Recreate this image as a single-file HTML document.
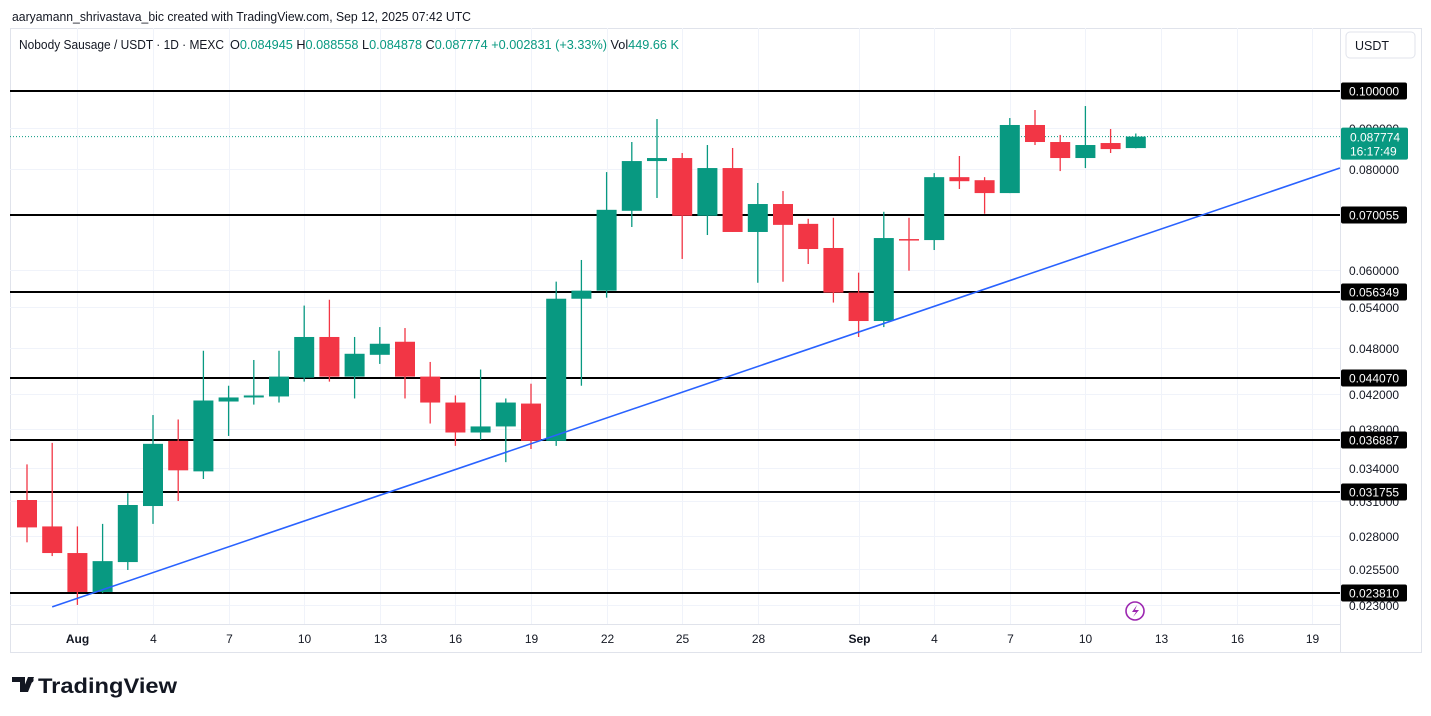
<!DOCTYPE html>
<html><head><meta charset="utf-8"><style>
html,body{margin:0;padding:0;background:#fff;width:1431px;height:716px;overflow:hidden;font-family:"Liberation Sans",sans-serif}
svg text{font-family:"Liberation Sans",sans-serif}
</style></head><body>
<svg id="chart" width="1431" height="716" viewBox="0 0 1431 716" xmlns="http://www.w3.org/2000/svg">
<text x="12" y="21" font-size="12.5" fill="#131722" textLength="459" lengthAdjust="spacingAndGlyphs">aaryamann_shrivastava_bic created with TradingView.com, Sep 12, 2025 07:42 UTC</text>
<rect x="10.5" y="28.5" width="1411" height="624" fill="none" stroke="#e0e3eb"/>
<line x1="1340.5" y1="28" x2="1340.5" y2="652" stroke="#e0e3eb"/>
<line x1="10" y1="624.5" x2="1340" y2="624.5" stroke="#e0e3eb"/>
<g id="grid"></g>
<g id="hlines"></g>
<g id="candles"></g>
<g id="trend"></g>
<g id="yaxis"></g>
<g id="xaxis"></g>
<text x="19" y="49" font-size="12.5" fill="#131722" textLength="205" lengthAdjust="spacingAndGlyphs">Nobody Sausage / USDT · 1D · MEXC</text>
<text x="230" y="49" font-size="12.5" fill="#089981" textLength="449" lengthAdjust="spacingAndGlyphs"><tspan fill="#131722">O</tspan>0.084945 <tspan fill="#131722">H</tspan>0.088558 <tspan fill="#131722">L</tspan>0.084878 <tspan fill="#131722">C</tspan>0.087774 +0.002831 (+3.33%) <tspan fill="#131722">Vol</tspan>449.66 K</text>
<rect x="1346" y="32" width="69" height="26" rx="4" fill="#fff" stroke="#e0e3eb"/>
<text x="1355" y="50" font-size="12.5" fill="#131722">USDT</text>
<g><circle cx="1135" cy="611" r="9" fill="none" stroke="#9c27b0" stroke-width="1.6"/><path d="M1137 605 L1132 612 L1136 612 L1133 617 L1139 610 L1135 610 Z" fill="#9c27b0"/></g>
<g><path d="M12 677 h13 v15 h-5 v-10 h-8z M28 677 h6 l-6 15 h-6z" fill="#131722"/><circle cx="31" cy="680" r="2.6" fill="#131722"/><text x="38" y="693" font-size="21" font-weight="bold" fill="#131722" textLength="139" lengthAdjust="spacingAndGlyphs">TradingView</text></g>
</svg>
<script>
const dates = [];
const opens =  [0.03106,0.02880,0.02669,0.02388,0.02601,0.03053,0.03678,0.03371,0.04116,0.04164,0.04176,0.04407,0.04950,0.04420,0.04704,0.04883,0.04420,0.04104,0.03767,0.03833,0.04092,0.03678,0.05522,0.05651,0.07100,0.08185,0.08256,0.07000,0.08023,0.06683,0.07239,0.06840,0.06384,0.05619,0.05181,0.06549,0.06530,0.07817,0.07749,0.07469,0.09074,0.08643,0.08256,0.08618,0.084945];
const highs =  [0.03439,0.03657,0.02880,0.02901,0.03167,0.03960,0.03910,0.04759,0.04306,0.04635,0.04759,0.05415,0.05506,0.04950,0.05092,0.05078,0.04609,0.04188,0.04510,0.04152,0.04331,0.05799,0.06169,0.07931,0.08643,0.09230,0.08376,0.08569,0.08497,0.07688,0.07513,0.06940,0.06960,0.05949,0.07080,0.06960,0.07908,0.08304,0.07817,0.09256,0.09471,0.08820,0.09579,0.08970,0.088558];
const lows =   [0.02752,0.02646,0.02301,0.02380,0.02543,0.02901,0.03097,0.03298,0.03730,0.04080,0.04104,0.04357,0.04357,0.04152,0.04583,0.04152,0.03865,0.03626,0.03689,0.03461,0.03594,0.03626,0.04306,0.05539,0.06779,0.07365,0.06187,0.06625,0.06683,0.05780,0.05797,0.06098,0.05462,0.04950,0.05092,0.05983,0.06347,0.07557,0.07040,0.07469,0.08569,0.07954,0.08023,0.08376,0.084878];
const closes = [0.02872,0.02669,0.02388,0.02608,0.03062,0.03647,0.03381,0.04128,0.04164,0.04188,0.04420,0.04950,0.04420,0.04718,0.04855,0.04420,0.04104,0.03767,0.03833,0.04104,0.03678,0.05522,0.05651,0.07120,0.08185,0.08256,0.07000,0.08023,0.06683,0.07239,0.06820,0.06365,0.05619,0.05181,0.06568,0.06530,0.07817,0.07727,0.07469,0.09074,0.08643,0.08256,0.08569,0.08470,0.087774];
const levels = [0.1,0.070055,0.056349,0.04407,0.036887,0.031755,0.02381];
const levelLabels = ["0.100000","0.070055","0.056349","0.044070","0.036887","0.031755","0.023810"];
const gridPrices = [0.09,0.08,0.06,0.054,0.048,0.042,0.038,0.034,0.031,0.028,0.0255,0.023];
const gridLabels = ["0.090000","0.080000","0.060000","0.054000","0.048000","0.042000","0.038000","0.034000","0.031000","0.028000","0.025500","0.023000"];
const xTickIdx = [2,5,8,11,14,17,20,23,26,29,33,36,39,42,45,48,51];
const xTickLabels = ["Aug","4","7","10","13","16","19","22","25","28","Sep","4","7","10","13","16","19"];
const trendIdx = [1,52.1];
const trendPrice = [0.02288,0.08023];
const lastPrice = 0.087774;

const NS="http://www.w3.org/2000/svg";
function X(i){return 27+i*25.2;}
function Y(p){return 91+(Math.log(0.1)-Math.log(p))*349.8;}
function mk(tag,attrs,parent){const e=document.createElementNS(NS,tag);for(const k in attrs)e.setAttribute(k,attrs[k]);parent.appendChild(e);return e;}
const grid=document.getElementById('grid'),hl=document.getElementById('hlines'),cg=document.getElementById('candles'),tg=document.getElementById('trend'),ya=document.getElementById('yaxis'),xa=document.getElementById('xaxis');
gridPrices.forEach((p,k)=>{const y=Math.round(Y(p))+0.5;
 const l=mk('line',{x1:10,x2:1340,y1:y,y2:y,stroke:'#f0f3fa'},grid);
 
 
 const t=mk('text',{x:1349,y:y+4.5,'font-size':12,fill:'#131722'},ya);t.textContent=gridLabels[k];
 
 
});
xTickIdx.forEach((i,k)=>{const x=Math.round(X(i))+0.5;
 const l=mk('line',{x1:x,x2:x,y1:28,y2:624,stroke:'#f0f3fa'},grid);
 
 
 const t=mk('text',{x:x,y:643,'font-size':12,fill:'#131722','text-anchor':'middle','font-weight':(k==0||k==10)?'bold':'normal'},xa);t.textContent=xTickLabels[k];
 
 
});
const lp=mk('line',{x1:10,x2:1340,y1:Y(lastPrice),y2:Y(lastPrice),stroke:'#089981','stroke-dasharray':'1 2','stroke-width':1},hl);


levels.forEach((p,k)=>{const y=Math.round(Y(p));
 const l=mk('line',{x1:10,x2:1340,y1:y,y2:y,stroke:'#000','stroke-width':2},hl);
 
 
});
opens.forEach((o,i)=>{const c=closes[i],up=c>=o,col=up?'#089981':'#f23645',x=X(i);
 const g=mk('g',{},cg);
 
 
 mk('line',{x1:x,x2:x,y1:Y(highs[i]),y2:Y(lows[i]),stroke:col,'stroke-width':1.3},g);
 const t=Math.min(Y(o),Y(c)),b=Math.max(Y(o),Y(c));
 mk('rect',{x:x-10,y:t,width:20,height:Math.max(b-t,1.5),fill:col},g);
});
const tl=mk('line',{x1:X(trendIdx[0]),y1:Y(trendPrice[0]),x2:X(trendIdx[1]),y2:Y(trendPrice[1]),stroke:'#2962ff','stroke-width':1.6},tg);


levels.forEach((p,k)=>{const y=Math.round(Y(p));
 const r=mk('rect',{x:1341,y:y-8.5,width:66,height:17,rx:2,fill:'#000'},ya);
 
 
 const t=mk('text',{x:1349,y:y+4.5,'font-size':12,fill:'#fff'},ya);t.textContent=levelLabels[k];
 
 
});
const ly=Y(lastPrice);
const lb=mk('rect',{x:1341,y:ly-9,width:67,height:32,rx:2,fill:'#089981'},ya);


const lt=mk('text',{x:1350,y:ly+5,'font-size':12,fill:'#fff'},ya);lt.textContent=lastPrice.toFixed(6);


const ct=mk('text',{x:1350,y:ly+19,'font-size':12,fill:'#fff'},ya);ct.textContent="16:17:49";


</script>
</body></html>
